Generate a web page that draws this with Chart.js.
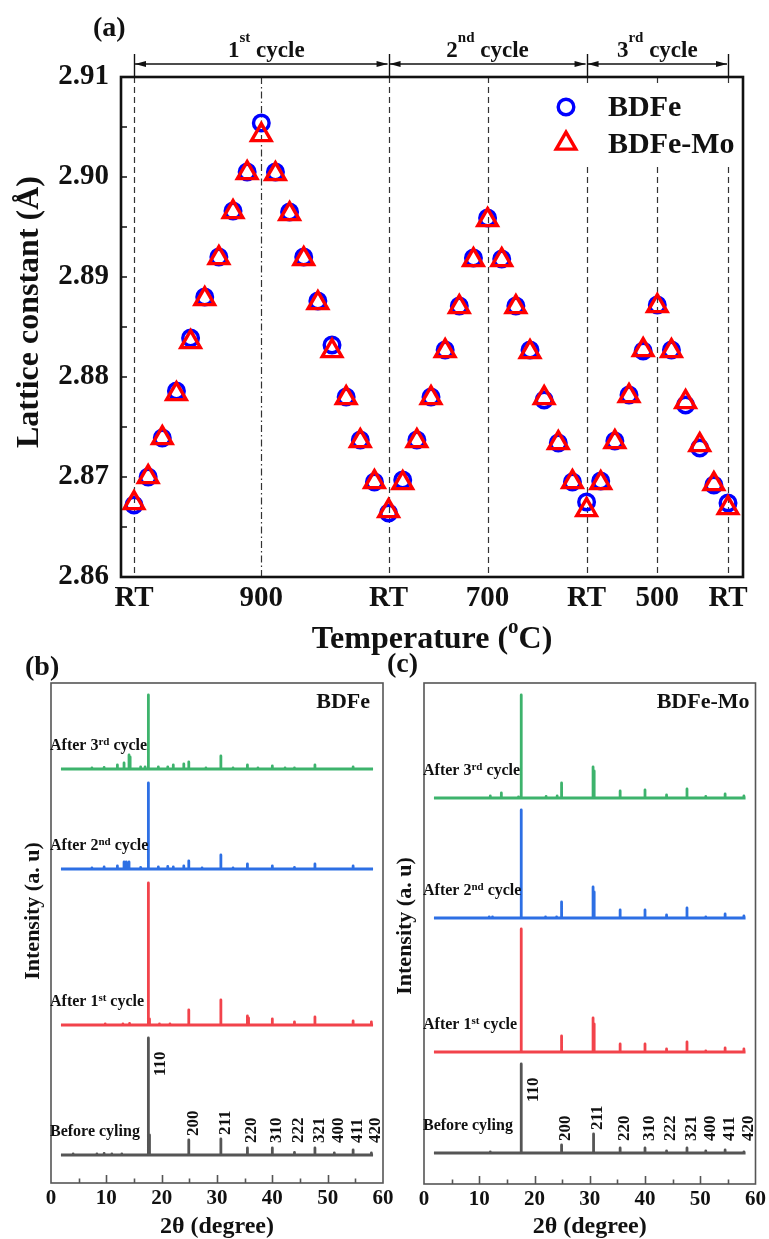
<!DOCTYPE html>
<html>
<head>
<meta charset="utf-8">
<title>Lattice constant and XRD patterns</title>
<script src="https://cdn.jsdelivr.net/npm/chart.js@4.4.1/dist/chart.umd.min.js"></script>
<style>
  html, body { margin: 0; padding: 0; background: #fff; }
  body { position: relative; width: 769px; height: 1239px; overflow: hidden; }
  canvas { position: absolute; }
  #latticeChart { left: 0; top: 0; }
  #bdfeXrd { left: 0; top: 640px; }
  #moXrd { left: 385px; top: 640px; }
</style>
</head>
<body>
<canvas id="latticeChart" width="769" height="660"></canvas>
<canvas id="bdfeXrd" width="400" height="599"></canvas>
<canvas id="moXrd" width="384" height="599"></canvas>
<script>
const SERIF = '"Liberation Serif", "Times New Roman", serif';
Chart.defaults.font.family = SERIF;
Chart.defaults.color = '#111';

// (a) lattice constant (Å) measured along three heating / cooling cycles
const temperatures = [
  'RT', '100', '200', '300', '400', '500', '600', '700', '800', '900', '800', '700', '600', '500', '400', '300', '200', '100',
  'RT', '100', '200', '300', '400', '500', '600', '700', '600', '500', '400', '300', '200', '100',
  'RT', '100', '200', '300', '400', '500', '400', '300', '200', '100', 'RT'
];
const bdfe = [
  2.8672, 2.8700, 2.8739, 2.8786, 2.8839, 2.8880, 2.8920, 2.8966, 2.9005, 2.9054, 2.9005, 2.8965, 2.8920, 2.8876, 2.8832, 2.8780, 2.8737, 2.8695,
  2.8664, 2.8697, 2.8737, 2.8780, 2.8827, 2.8871, 2.8919, 2.8959, 2.8918, 2.8871, 2.8827, 2.8777, 2.8734, 2.8695,
  2.8675, 2.8696, 2.8736, 2.8782, 2.8826, 2.8872, 2.8827, 2.8772, 2.8729, 2.8692, 2.8674
];
const bdfeMo = [
  2.8674, 2.8700, 2.8739, 2.8783, 2.8835, 2.8878, 2.8919, 2.8965, 2.9004, 2.9042, 2.9003, 2.8963, 2.8918, 2.8874, 2.8826, 2.8779, 2.8736, 2.8695,
  2.8666, 2.8694, 2.8736, 2.8779, 2.8826, 2.8870, 2.8917, 2.8957, 2.8917, 2.8870, 2.8825, 2.8779, 2.8734, 2.8695,
  2.8667, 2.8694, 2.8735, 2.8781, 2.8827, 2.8871, 2.8826, 2.8775, 2.8732, 2.8693, 2.8669
];
const tickIdx = [0, 9, 18, 25, 32, 37, 42];
const cycleBounds = [0, 18, 32, 42];
const cycleNames = [['1', 'st', ' cycle'], ['2', 'nd', ' cycle'], ['3', 'rd', ' cycle']];

// (b), (c) XRD stick patterns: [2θ, intensity]
const scanRange = [1.8, 58.2];
const hklLabels = ['110', '200', '211', '220', '310', '222', '321', '400', '411', '420'];
const bdfeHkl = [17.6, 24.9, 30.7, 35.5, 40.0, 44.0, 47.7, 51.2, 54.6, 57.9];
const moHkl = [17.6, 24.9, 30.6, 35.5, 40.0, 43.9, 47.6, 51.0, 54.5, 57.9];

const bdfeBefore = [[4.0, 1], [8.3, 1], [9.6, 1.5], [11.0, 1], [12.8, 1], [17.6, 117], [17.8, 20], [24.9, 15], [30.7, 16],
  [35.5, 7], [40.0, 7], [44.0, 2.5], [47.7, 7], [51.2, 2], [54.6, 5], [57.9, 2]];
const bdfeCycle1 = [[9.8, 1], [13.0, 1], [14.2, 1.5], [17.6, 142], [17.8, 6], [19.6, 1], [21.5, 1], [24.9, 15], [30.7, 25],
  [35.5, 9], [35.7, 7], [40.0, 6], [44.0, 3], [47.7, 8], [54.6, 4], [57.9, 3]];
const bdfeCycle2 = [[7.4, 1], [9.6, 2], [12.0, 3], [13.2, 7], [13.6, 7], [14.1, 7], [16.2, 1.5], [17.6, 86], [19.4, 2], [21.1, 2.5],
  [22.1, 2], [24.0, 3], [24.9, 8], [27.3, 1], [30.7, 14], [32.9, 1], [35.5, 5], [40.0, 3], [44.0, 1.5], [47.7, 5], [54.6, 3]];
const bdfeCycle3 = [[7.4, 1], [9.6, 1.5], [12.0, 4], [13.2, 6], [14.1, 14], [14.3, 12], [16.2, 2], [17.0, 2], [17.6, 74], [19.4, 2],
  [21.1, 2], [22.1, 4], [24.0, 5], [24.9, 7], [28.0, 1], [30.7, 13], [32.9, 1], [35.5, 4], [37.4, 1], [40.0, 3], [42.3, 1],
  [44.0, 1], [47.7, 4], [54.6, 2]];

const moBefore = [[12.0, 1], [17.6, 89], [24.9, 8], [30.6, 19], [30.75, 15], [35.5, 5], [40.0, 5], [43.9, 2], [47.6, 5],
  [51.0, 2], [54.5, 3], [57.9, 1]];
const moCycle1 = [[17.6, 123], [24.9, 16], [30.6, 34], [30.8, 28], [35.5, 8], [40.0, 8], [43.9, 3], [47.6, 10], [51.0, 1],
  [54.5, 4], [57.9, 3]];
const moCycle2 = [[11.8, 1], [12.4, 1], [17.6, 108], [22.0, 1], [24.0, 1], [24.9, 16], [30.6, 31], [30.8, 26], [35.5, 8],
  [40.0, 8], [43.9, 3], [47.6, 10], [51.0, 1], [54.5, 4], [57.9, 2]];
const moCycle3 = [[12.0, 2], [14.0, 5], [17.1, 1], [17.6, 103], [22.1, 1.5], [24.1, 2], [24.9, 15], [30.6, 31], [30.8, 27],
  [35.5, 7], [40.0, 8], [43.9, 3], [47.6, 9], [51.0, 1.5], [54.5, 4], [57.9, 2]];

// vertical stacking of the four scans (a. u.)
const bdfeOffsets = [28, 158, 314, 414];
const moOffsets = [31, 132, 266, 386];
const traceNames = [['Before cyling'], ['After 1', 'st', ' cycle'], ['After 2', 'nd', ' cycle'], ['After 3', 'rd', ' cycle']];
const traceColors = ['#555555', '#f2434b', '#2d6fe4', '#3db36c'];

// text with superscripts: odd entries of parts are raised
function drawParts(ctx, parts, x, y, size, supSize, rise, align) {
  const fonts = parts.map((p, i) => `bold ${i % 2 ? supSize : size}px ${SERIF}`);
  let total = 0;
  const widths = parts.map((p, i) => {
    ctx.font = fonts[i];
    const w = ctx.measureText(p).width;
    total += w;
    return w;
  });
  let cx = align === 'center' ? x - total / 2 : (align === 'right' ? x - total : x);
  ctx.textAlign = 'left';
  ctx.textBaseline = 'alphabetic';
  parts.forEach((p, i) => {
    ctx.font = fonts[i];
    ctx.fillText(p, cx, i % 2 ? y - rise : y);
    cx += widths[i];
  });
}

function drawRotated(ctx, text, x, y, font, align) {
  ctx.save();
  ctx.translate(x, y);
  ctx.rotate(-Math.PI / 2);
  ctx.font = font;
  ctx.textAlign = align || 'center';
  ctx.textBaseline = 'middle';
  ctx.fillText(text, 0, 0);
  ctx.restore();
}

function drawMarker(ctx, ds, x, y) {
  ctx.save();
  ctx.strokeStyle = ds.pointBorderColor;
  ctx.lineWidth = ds.pointBorderWidth;
  ctx.beginPath();
  if (ds.pointStyle === 'triangle') {
    const r = ds.pointRadius;
    for (let k = 0; k < 3; k++) {
      const ang = k * 2 * Math.PI / 3;
      const px = x + Math.sin(ang) * r, py = y - Math.cos(ang) * r;
      if (k === 0) ctx.moveTo(px, py); else ctx.lineTo(px, py);
    }
    ctx.closePath();
  } else {
    ctx.arc(x, y, ds.pointRadius, 0, Math.PI * 2);
  }
  ctx.stroke();
  ctx.restore();
}

const latticeDecor = {
  id: 'latticeDecor',
  beforeDatasetsDraw(chart) {
    const { ctx, chartArea: a, scales: { x, y } } = chart;
    ctx.save();
    // guide lines at RT and at the top temperature of each cycle
    ctx.lineWidth = 1.2;
    ctx.strokeStyle = '#333';
    tickIdx.forEach(i => {
      const px = Math.round(x.getPixelForValue(i)) + 0.5;
      ctx.setLineDash(temperatures[i] === '900' ? [7, 3, 1.5, 3] : [6, 4]);
      ctx.beginPath();
      ctx.moveTo(px, a.top);
      ctx.lineTo(px, a.bottom);
      ctx.stroke();
    });
    ctx.setLineDash([]);
    // inward ticks on the left axis
    ctx.lineWidth = 1.5;
    ctx.strokeStyle = '#111';
    for (let k = 0; k <= 10; k++) {
      const py = y.getPixelForValue(2.86 + k * 0.005);
      ctx.beginPath();
      ctx.moveTo(a.left, py);
      ctx.lineTo(a.left + 6, py);
      ctx.stroke();
    }
    ctx.restore();
  },
  afterDatasetsDraw(chart) {
    const { ctx, chartArea: a } = chart;
    ctx.save();
    ctx.fillStyle = '#fff';
    ctx.fillRect(548, 86, a.right - 549, 79);
    chart.data.datasets.forEach((ds, i) => {
      const my = 107 + i * 36.5;
      drawMarker(ctx, ds, 566, my);
      ctx.fillStyle = '#111';
      ctx.font = `bold 30px ${SERIF}`;
      ctx.textAlign = 'left';
      ctx.textBaseline = 'middle';
      ctx.fillText(ds.label, 608, my + 1.5);
    });
    ctx.restore();
  },
  afterDraw(chart) {
    const { ctx, chartArea: a, scales: { x } } = chart;
    ctx.save();
    ctx.strokeStyle = '#111';
    ctx.fillStyle = '#111';
    ctx.lineWidth = 2.6;
    ctx.strokeRect(a.left, a.top, a.right - a.left, a.bottom - a.top);

    // cycle spans above the plot
    const yArrow = a.top - 13;
    ctx.lineWidth = 1.4;
    cycleBounds.forEach(b => {
      const px = Math.round(x.getPixelForValue(b)) + 0.5;
      ctx.beginPath();
      ctx.moveTo(px, a.top - 23);
      ctx.lineTo(px, a.top);
      ctx.stroke();
    });
    cycleNames.forEach((parts, c) => {
      const x0 = x.getPixelForValue(cycleBounds[c]) + 1;
      const x1 = x.getPixelForValue(cycleBounds[c + 1]) - 1;
      ctx.beginPath();
      ctx.moveTo(x0, yArrow);
      ctx.lineTo(x1, yArrow);
      ctx.stroke();
      [[x0, -1], [x1, 1]].forEach(([tip, dir]) => {
        ctx.beginPath();
        ctx.moveTo(tip, yArrow);
        ctx.lineTo(tip - dir * 11, yArrow - 3);
        ctx.lineTo(tip - dir * 11, yArrow + 3);
        ctx.closePath();
        ctx.fill();
      });
      drawParts(ctx, parts, (x0 + x1) / 2 + (c === 0 ? 5 : 0), a.top - 20, 23, 15, 15, 'center');
    });

    ctx.font = `bold 28px ${SERIF}`;
    ctx.textAlign = 'left';
    ctx.textBaseline = 'middle';
    ctx.fillText('(a)', 93, 29);

    drawRotated(ctx, 'Lattice constant (Å)', 30, 312, `bold 32px ${SERIF}`);
    drawParts(ctx, ['Temperature (', 'o', 'C)'], (a.left + a.right) / 2, 648, 32, 21, 15, 'center');
    ctx.restore();
  }
};

new Chart(document.getElementById('latticeChart'), {
  type: 'scatter',
  data: {
    datasets: [
      {
        label: 'BDFe',
        data: bdfe.map((v, i) => ({ x: i, y: v })),
        pointStyle: 'circle',
        pointRadius: 7.8,
        pointBorderWidth: 3.4,
        pointBorderColor: '#0000ff',
        pointBackgroundColor: 'rgba(0,0,0,0)',
        borderColor: '#0000ff',
        order: 2
      },
      {
        label: 'BDFe-Mo',
        data: bdfeMo.map((v, i) => ({ x: i, y: v })),
        pointStyle: 'triangle',
        pointRadius: 11.3,
        pointBorderWidth: 3.4,
        pointBorderColor: '#ff0000',
        pointBackgroundColor: 'rgba(0,0,0,0)',
        borderColor: '#ff0000',
        order: 1
      }
    ]
  },
  options: {
    responsive: false,
    animation: false,
    devicePixelRatio: 1,
    events: [],
    layout: { padding: { left: 0, top: 77, right: 26, bottom: 0 } },
    plugins: { legend: { display: false }, tooltip: { enabled: false } },
    scales: {
      x: {
        type: 'linear',
        min: -0.92,
        max: 43.06,
        grid: { display: false, drawTicks: false },
        border: { display: false },
        afterBuildTicks: s => { s.ticks = tickIdx.map(v => ({ value: v })); },
        afterFit: s => { s.height = 83; },
        ticks: {
          autoSkip: false,
          maxRotation: 0,
          padding: 4,
          font: { size: 29, weight: 'bold' },
          callback: v => temperatures[v]
        }
      },
      y: {
        min: 2.86,
        max: 2.91,
        grid: { display: false, drawTicks: false },
        border: { display: false },
        afterFit: s => { s.width = 121; },
        ticks: {
          stepSize: 0.01,
          padding: 12,
          autoSkip: false,
          font: { size: 29, weight: 'bold' },
          callback: v => v.toFixed(2)
        }
      }
    }
  },
  plugins: [latticeDecor]
});

function stickPattern(peaks, base) {
  const pts = [{ x: scanRange[0], y: base }];
  peaks.forEach(([tt, h]) => {
    pts.push({ x: tt, y: base }, { x: tt, y: base + h }, { x: tt, y: base });
  });
  pts.push({ x: scanRange[1], y: base });
  return pts;
}

function xrdDecor(patterns, offsets, hkl, look) {
  return {
    id: 'xrdDecor',
    afterDraw(chart) {
      const { ctx, chartArea: a, scales: { x, y } } = chart;
      ctx.save();
      ctx.strokeStyle = '#555';
      ctx.lineWidth = 1.6;
      ctx.strokeRect(a.left, a.top, a.right - a.left, a.bottom - a.top);
      for (let t = 5; t < 60; t += 5) {
        const px = Math.round(x.getPixelForValue(t)) + 0.5;
        ctx.beginPath();
        ctx.moveTo(px, a.bottom);
        ctx.lineTo(px, a.bottom - (t % 10 ? 4.5 : 8));
        ctx.stroke();
      }

      ctx.fillStyle = '#111';
      ctx.font = `bold 28px ${SERIF}`;
      ctx.textAlign = 'left';
      ctx.textBaseline = 'middle';
      ctx.fillText(look.panel, look.panelX, look.panelY);
      ctx.font = `bold 22px ${SERIF}`;
      ctx.textAlign = 'right';
      ctx.fillText(look.tag, a.right - look.tagInset, 62);

      // scan names above each baseline
      patterns.forEach((p, k) => {
        const base = y.getPixelForValue(offsets[k]);
        drawParts(ctx, traceNames[k], a.left - 1, base - look.nameLift + 5, 16, 11, 5, 'left');
      });

      // Miller indices over the pristine pattern
      const base0 = y.getPixelForValue(offsets[0]);
      hkl.forEach((tt, j) => {
        const peak = patterns[0].find(pk => pk[0] === tt);
        const top = y.getPixelForValue(offsets[0] + peak[1]);
        const bottom = j === 0 ? top + 38 : Math.min(top, base0 - 8) - 4;
        const px = x.getPixelForValue(tt) + (j === 0 ? 12 : 4.5);
        drawRotated(ctx, hklLabels[j], px, bottom, `bold 17px ${SERIF}`, 'left');
      });

      drawRotated(ctx, 'Intensity (a. u)', look.yTitleX, look.yTitleY, `bold 22px ${SERIF}`);
      ctx.font = `bold 24px ${SERIF}`;
      ctx.textAlign = 'center';
      ctx.textBaseline = 'middle';
      ctx.fillText('2θ (degree)', (a.left + a.right) / 2, 587);
      ctx.restore();
    }
  };
}

function xrdChart(id, patterns, offsets, hkl, look) {
  return new Chart(document.getElementById(id), {
    type: 'line',
    data: {
      datasets: patterns.map((peaks, k) => ({
        label: traceNames[k].join(''),
        data: stickPattern(peaks, offsets[k]),
        borderColor: traceColors[k],
        borderWidth: 2.8,
        pointRadius: 0,
        tension: 0,
        borderJoinStyle: 'round',
        fill: false
      }))
    },
    options: {
      responsive: false,
      animation: false,
      devicePixelRatio: 1,
      events: [],
      layout: { padding: { left: 0, top: 43, right: look.padRight, bottom: 0 } },
      plugins: { legend: { display: false }, tooltip: { enabled: false } },
      scales: {
        x: {
          type: 'linear',
          min: 0,
          max: 60,
          grid: { display: false, drawTicks: false },
          border: { display: false },
          afterFit: s => { s.height = look.axisHeight; },
          ticks: { stepSize: 10, padding: 3, maxRotation: 0, autoSkip: false, font: { size: 21, weight: 'bold' } }
        },
        y: {
          min: 0,
          max: look.yMax,
          grid: { display: false, drawTicks: false },
          border: { display: false },
          ticks: { display: false },
          afterFit: s => { s.width = look.axisWidth; }
        }
      }
    },
    plugins: [xrdDecor(patterns, offsets, hkl, look)]
  });
}

xrdChart('bdfeXrd', [bdfeBefore, bdfeCycle1, bdfeCycle2, bdfeCycle3], bdfeOffsets, bdfeHkl, {
  panel: '(b)', panelX: 25, panelY: 28, tag: 'BDFe', tagInset: 13, nameLift: 24,
  yTitleX: 33, yTitleY: 271, padRight: 17, axisWidth: 51, axisHeight: 56, yMax: 500
});
xrdChart('moXrd', [moBefore, moCycle1, moCycle2, moCycle3], moOffsets, moHkl, {
  panel: '(c)', panelX: 2, panelY: 25, tag: 'BDFe-Mo', tagInset: 6, nameLift: 28,
  yTitleX: 20, yTitleY: 286, padRight: 11, axisWidth: 39, axisHeight: 55, yMax: 501
});
</script>
</body>
</html>
